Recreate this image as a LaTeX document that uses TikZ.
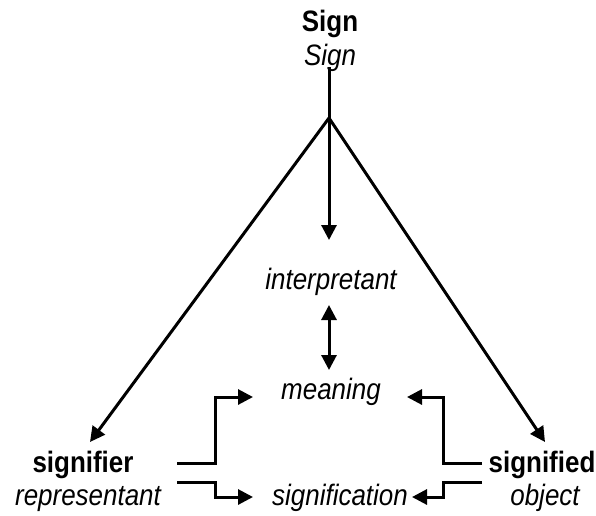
\documentclass[tikz,border=0pt]{standalone}
\usepackage{fontspec}
\setmainfont{Liberation Sans}[FakeStretch=0.88]
\usetikzlibrary{arrows.meta}
\begin{document}
\begin{tikzpicture}[x=1pt,y=-1pt,
  lbl/.style={anchor=base,inner sep=0pt,font=\fontsize{29.5}{31}\selectfont},
  bl/.style={lbl,font=\fontsize{29.5}{31}\selectfont\bfseries},
  il/.style={lbl,font=\fontsize{29.5}{31}\selectfont\itshape},
  conn/.style={line width=3pt,-{Triangle[length=15pt,width=15pt]}},
  dbl/.style={line width=3pt,{Triangle[length=15pt,width=15pt]}-{Triangle[length=15pt,width=15pt]}}]
\useasboundingbox (0,0) rectangle (596,515);
\node[bl] (signB) at (330,31) {Sign};
\node[il] (signI) at (330,65) {Sign};
\node[il] (interp) at (331,289) {interpretant};
\node[il] (meaning) at (331,399) {meaning};
\node[il] (signif) at (340,505) {signification};
\node[bl] (signifier) at (83,472) {signifier};
\node[il] (repr) at (88,505) {representant};
\node[bl] (signified) at (542,472) {signified};
\node[il] (object) at (545,505) {object};
\coordinate (top) at (329,67);
\coordinate (apex) at (329,118);
\coordinate (itip) at (329,240);
\coordinate (ltip) at (90,442);
\coordinate (rtip) at (545,442);
\coordinate (dtop) at (329,305);
\coordinate (dbot) at (329,370);
\coordinate (l1s) at (177,463);
\coordinate (l1e) at (253,397);
\coordinate (l2s) at (177,482);
\coordinate (l2e) at (253,497);
\coordinate (r1s) at (482,463);
\coordinate (r1e) at (407,397);
\coordinate (r2s) at (482,482);
\coordinate (r2e) at (412,497);
\draw[line width=3pt] (top) -- (apex);
\draw[conn] (apex) -- (itip);
\draw[conn] (apex) -- (ltip);
\draw[conn] (apex) -- (rtip);
\draw[dbl] (dtop) -- (dbot);
\draw[conn] (l1s) -- (215,463) -- (215,397) -- (l1e);
\draw[conn] (l2s) -- (215,482) -- (215,497) -- (l2e);
\draw[conn] (r1s) -- (443,463) -- (443,397) -- (r1e);
\draw[conn] (r2s) -- (443,482) -- (443,497) -- (r2e);
\end{tikzpicture}
\end{document}
